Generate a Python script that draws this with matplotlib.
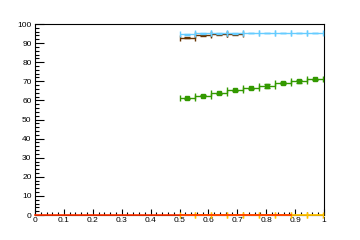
import numpy as np
import matplotlib.pyplot as plt

plt.rcParams.update({
    "font.family": ["Liberation Sans", "DejaVu Sans"],
    "font.size": 6,
})

# bin edges shared by the histograms (x)
bin_edges = np.array([0.5, 0.555, 0.61, 0.665, 0.72, 0.775, 0.83, 0.885, 0.94, 0.995])

blue_vals = [94.6, 95.2, 95.2, 95.2, 95.3, 95.3, 95.3, 95.3, 95.3]
blue_errs = [0.2, 0.2, 0.2, 0.2, 0.2, 0.2, 0.2, 0.2, 0.2]

brown_vals = [92.8, 94.0, 94.6, 94.6]
brown_errs = [0.2, 0.2, 0.2, 0.2]

green_vals = [61.1, 62.4, 63.7, 65.2, 66.3, 67.4, 69.0, 70.0, 71.0]
green_errs = [0.3, 0.3, 0.3, 0.3, 0.4, 1.0, 0.4, 0.8, 0.4]

yellow_vals = [0, 0, 0, 0, 0, 0, 0, 0, 0]

red_x = [0.0, 0.885]
red_y = [0.0, 0.0]

centers = 0.5 * (bin_edges[1:] + bin_edges[:-1])
halfw = 0.5 * (bin_edges[1:] - bin_edges[:-1])

fig = plt.figure(figsize=(3.6, 2.4), dpi=100)
ax = fig.add_axes([35 / 360, 25 / 240, 289 / 360, 191 / 240])

ekw = dict(fmt="none", elinewidth=1.0, capsize=2.0, capthick=1.0)

n = len(green_vals)
ax.errorbar(centers[:n], green_vals, xerr=halfw[:n], yerr=green_errs,
            color="#339900", ecolor="#339900", fmt="s", ms=3.2,
            elinewidth=1.0, capsize=2.0, capthick=1.0, zorder=3)

n = len(brown_vals)
ax.errorbar(centers[:n], brown_vals, xerr=halfw[:n], yerr=brown_errs,
            ecolor="#663300", zorder=3, **ekw)

n = len(blue_vals)
ax.errorbar(centers[:n], blue_vals, xerr=halfw[:n], yerr=blue_errs,
            ecolor="#66ccff", zorder=4, **ekw)

n = len(yellow_vals)
eb = ax.errorbar(centers[:n], yellow_vals, xerr=halfw[:n], fmt="none",
                 ecolor="#ffc000", elinewidth=1.3, capsize=2.2, capthick=1.0,
                 zorder=5)
for art in list(eb.lines[1]) + list(eb.lines[2]):
    art.set_clip_on(False)

ax.plot(red_x, red_y, color="#ff3300", lw=1.2, zorder=6, clip_on=False)

ax.set_xlim(0, 1)
ax.set_ylim(0, 100)
ax.set_xticks(np.arange(0, 1.01, 0.1))
ax.set_xticklabels(["0", "0.1", "0.2", "0.3", "0.4", "0.5", "0.6", "0.7", "0.8", "0.9", "1"])
ax.set_xticks(np.arange(0, 1.001, 0.02), minor=True)
ax.set_yticks(np.arange(0, 101, 10))
ax.set_yticks(np.arange(0, 101, 2), minor=True)

ax.tick_params(axis="x", which="major", direction="in", length=4.1, width=0.8,
               top=False, pad=1.5)
ax.tick_params(axis="x", which="minor", direction="in", length=2.0, width=0.8, top=False)
ax.tick_params(axis="y", which="major", direction="in", length=6.3, width=0.8,
               right=False, pad=2.5)
ax.tick_params(axis="y", which="minor", direction="in", length=3.1, width=0.8, right=False)

for s in ax.spines.values():
    s.set_linewidth(0.8)

fig.savefig("out.png", dpi=100)
